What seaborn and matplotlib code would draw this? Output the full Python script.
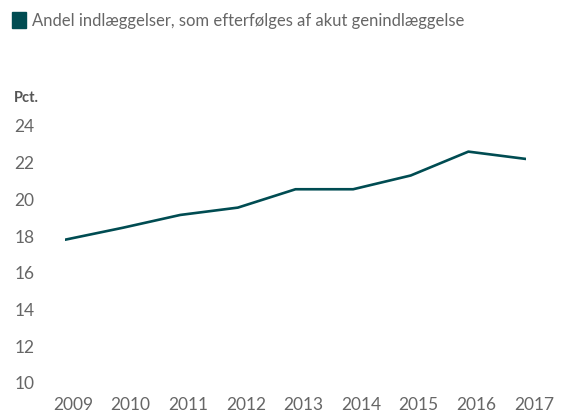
import matplotlib
matplotlib.use("Agg")
import matplotlib.pyplot as plt
import matplotlib.transforms as mtransforms
import seaborn as sns
import pandas as pd

years = [2009, 2010, 2011, 2012, 2013, 2014, 2015, 2016, 2017]
values = [17.75, 18.4, 19.1, 19.5, 20.5, 20.5, 21.25, 22.55, 22.15]
series_name = "Andel indlæggelser, som efterfølges af akut genindlæggelse"
y_ticks = [10, 12, 14, 16, 18, 20, 22, 24]
unit_label = "Pct."

df = pd.DataFrame({"year": years, "value": values})

sns.set_style("white")
plt.rcParams['font.family'] = ['Lato', 'DejaVu Sans']

W, H = 572, 414
fig = plt.figure(figsize=(W / 100, H / 100), dpi=100)
left, right, top, bottom = 65, 526, 126, 383
ax = fig.add_axes([left / W, (H - bottom) / H, (right - left) / W, (bottom - top) / H])

color = "#004C52"
sns.lineplot(data=df, x="year", y="value", ax=ax, color=color, linewidth=1.9, legend=False)

ax.set_xlim(2009, 2017)
ax.set_ylim(10, 24)
ax.set_xticks(years)
ax.set_xticklabels([str(y) for y in years])
ax.set_yticks(y_ticks)
ax.set_yticklabels([str(t) for t in y_ticks])
for s in ax.spines.values():
    s.set_visible(False)
ax.set_xlabel("")
ax.set_ylabel("")
ax.grid(False)
ax.tick_params(axis="y", length=0, pad=36.5, labelsize=12.5, labelcolor="#666666")
ax.tick_params(axis="x", length=0, pad=10, labelsize=12.5, labelcolor="#666666")
for lab in ax.get_yticklabels():
    lab.set_horizontalalignment("left")
offset = mtransforms.ScaledTranslation(8 / 100, 0, fig.dpi_scale_trans)
for lab in ax.get_xticklabels():
    lab.set_transform(lab.get_transform() + offset)

# legend-like header
fig.patches.append(plt.Rectangle((12 / W, 1 - 29 / H), 14 / W, 16 / H,
                                 transform=fig.transFigure, color=color, figure=fig))
fig.text(32 / W, 1 - 21 / H, series_name, fontsize=12, color="#666666", va="center", ha="left")
fig.text(14 / W, 1 - 98 / H, unit_label, fontsize=10.5, fontweight="bold", color="#555555",
         va="center", ha="left")

fig.savefig("out.png", dpi=100)
